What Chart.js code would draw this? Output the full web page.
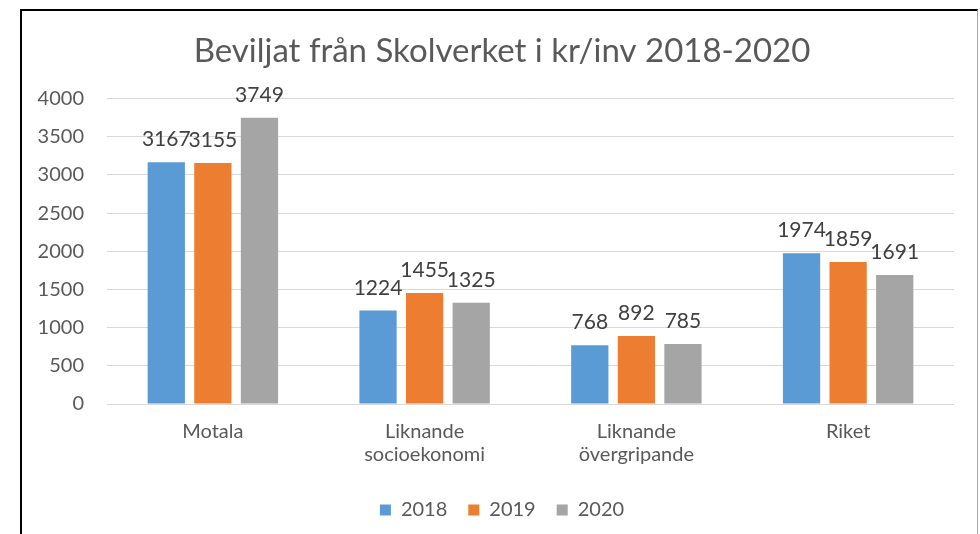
<!DOCTYPE html>
<html>
<head>
<meta charset="utf-8">
<script src="https://cdn.jsdelivr.net/npm/chart.js@4/dist/chart.umd.min.js"></script>
<style>
    html, body { margin: 0; padding: 0; background: #fff; overflow: hidden; }
    .frame {
        position: absolute;
        left: 20px; top: 9px;
        width: 955px; height: 523px;
        border-left: 2px solid #000;
        border-top: 2px solid #000;
        border-right: 1px solid #a6a6a6;
        background: #fff;
    }
    .frame canvas { display: block; }
</style>
</head>
<body>
<div class="frame"><canvas id="chart" width="955" height="523"></canvas></div>
<script>
// ─── DATA ─────────────────────────────────────────────────────
const categories = [['Motala'], ['Liknande', 'socioekonomi'], ['Liknande', 'övergripande'], ['Riket']];
const years      = ['2018', '2019', '2020'];
const values2018 = [3167, 1224, 768, 1974];
const values2019 = [3155, 1455, 892, 1859];
const values2020 = [3749, 1325, 785, 1691];
const colors     = ['#5b9bd5', '#ed7d31', '#a5a5a5'];
const yTicks     = { min: 0, max: 4000, step: 500 };

const FONT = 'Lato, "Open Sans", sans-serif';

// ─── VALUE LABELS ABOVE BARS ──────────────────────────────────
const barLabels = {
    id: 'barLabels',
    afterDatasetsDraw(chart) {
        const ctx = chart.ctx;
        ctx.save();
        ctx.font = '21px ' + FONT;
        ctx.fillStyle = '#404040';
        ctx.textAlign = 'center';
        ctx.textBaseline = 'alphabetic';
        chart.data.datasets.forEach((ds, i) => {
            chart.getDatasetMeta(i).data.forEach((bar, j) => {
                ctx.fillText(String(ds.data[j]), bar.x, bar.y - 16);
            });
        });
        ctx.restore();
    }
};

// title and legend sit centred on the whole frame, not the plot — nudge them right
const centreShift = {
    id: 'centreShift',
    afterLayout(chart) {
        [chart.titleBlock, chart.legend].forEach(b => {
            if (!b) return;
            b.left += 14;
            b.right += 14;
        });
    }
};

new Chart(document.getElementById('chart'), {
    type: 'bar',
    data: {
        labels: categories,
        datasets: [values2018, values2019, values2020].map((d, i) => ({
            label: years[i],
            data: d,
            backgroundColor: colors[i],
            borderWidth: 0,
            categoryPercentage: 0.66,
            barPercentage: 0.8
        }))
    },
    options: {
        responsive: false,
        animation: false,
        layout: { padding: { left: 0, right: 23, top: 0, bottom: 4 } },
        plugins: {
            title: {
                display: true,
                text: 'Beviljat från Skolverket i kr/inv 2018-2020',
                color: '#595959',
                font: { family: FONT, size: 33, weight: 'normal' },
                padding: { top: 21, bottom: 27 }
            },
            legend: {
                position: 'bottom',
                labels: {
                    color: '#595959',
                    font: { family: FONT, size: 20 },
                    boxWidth: 11,
                    boxHeight: 11,
                    padding: 21
                }
            },
            tooltip: { enabled: false }
        },
        scales: {
            x: {
                grid: { display: false },
                border: { display: false },
                ticks: {
                    color: '#595959',
                    font: { family: FONT, size: 20, lineHeight: 1.15 },
                    padding: 8,
                    maxRotation: 0
                },
                afterFit: s => { s.height = 75; }
            },
            y: {
                min: yTicks.min,
                max: yTicks.max,
                grid: { color: '#d9d9d9', drawTicks: false },
                border: { display: false },
                ticks: {
                    stepSize: yTicks.step,
                    color: '#595959',
                    font: { family: FONT, size: 20 },
                    padding: 23,
                    callback: v => String(v)
                },
                afterFit: s => { s.width = 85; }
            }
        }
    },
    plugins: [barLabels, centreShift]
});
</script>
</body>
</html>
